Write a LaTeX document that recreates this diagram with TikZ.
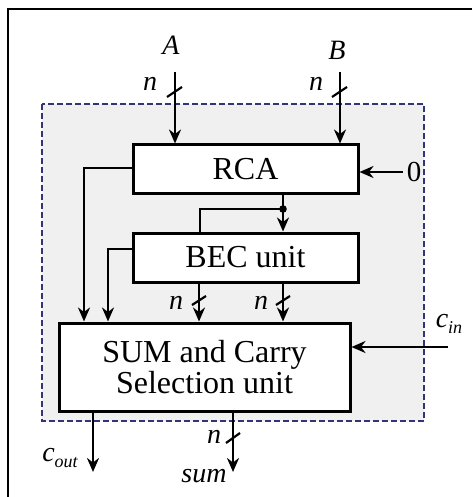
\documentclass[tikz,border=0pt]{standalone}
\usepackage{fontspec}
\setmainfont{Liberation Serif}
\usetikzlibrary{arrows.meta}
\newcommand{\subtxt}[2]{\textit{#1}\raisebox{-6pt}{\fontsize{18}{19}\selectfont\itshape #2}}
\begin{document}
\begin{tikzpicture}[x=1pt,y=-1pt,
  blk/.style={draw=black,fill=white,line width=3pt,inner sep=0pt,font=\fontsize{32}{34}\selectfont,align=center},
  wire/.style={line width=2.6pt},
  arr/.style={wire,-{Stealth[length=14pt,width=12pt,inset=4.5pt]}},
  lbl/.style={font=\fontsize{28}{30}\selectfont\itshape,inner sep=0pt},
  slash/.style={line width=2.2pt}]
\useasboundingbox (0,0) rectangle (472,497);
% outer frame (top and left)
\draw[line width=2.6pt] (472,9) -- (8,9) -- (8,497);
% dashed region
\draw[draw=black!55!blue!60!gray,fill=black!6,line width=2pt,dash pattern=on 6pt off 3pt] (42,104) rectangle (424,421);
% blocks
\node[blk,minimum width=225pt,minimum height=48pt] (rca) at (245.5,169) {RCA};
\node[blk,minimum width=225pt,minimum height=49pt] (bec) at (245.5,257.5) {BEC unit};
\node[blk,minimum width=291pt,minimum height=88pt] (sum) at (204.5,367) {SUM and Carry\\[-3pt]Selection unit};
% inputs
\coordinate (ain) at (175,72);
\coordinate (bin) at (340,72);
\node[lbl] (la) at (171,45) {A};
\node[lbl] (lb) at (337,50) {B};
\draw[arr] (ain) -- (ain |- rca.north);
\draw[arr] (bin) -- (bin |- rca.north);
\draw[slash] (167,97) -- (182,87);
\draw[slash] (332,97) -- (347,87);
\node[lbl] (na) at (150,84) {n};
\node[lbl] (nb) at (316,84) {n};
% zero carry in
\node[inner sep=0pt,font=\fontsize{29}{30}\selectfont] (zero) at (414,172) {0};
\draw[arr] (zero.west) ++(-4,0) coordinate (z0) -- (z0 -| rca.east);
% RCA left output to SUM
\coordinate (r1) at (84,168);
\draw[arr] (r1 -| rca.west) -- (r1) -- (r1 |- sum.north);
% RCA bottom output to BEC
\coordinate (r2) at (283,193);
\coordinate (jn) at (283,209);
\draw[arr] (r2) -- (r2 |- bec.north);
\fill (jn) circle (3.8pt);
\coordinate (j2) at (200,209);
\draw[wire] (jn) -- (j2) -- (j2 |- bec.north);
% BEC left output to SUM
\coordinate (b1) at (108,249);
\draw[arr] (b1 -| bec.west) -- (b1) -- (b1 |- sum.north);
% BEC bottom outputs
\coordinate (b2) at (199,282);
\coordinate (b3) at (283,282);
\draw[arr] (b2) -- (b2 |- sum.north);
\draw[arr] (b3) -- (b3 |- sum.north);
\draw[slash] (192,305) -- (206,296);
\draw[slash] (276,305) -- (290,296);
\node[lbl] (n2) at (176,303) {n};
\node[lbl] (n3) at (261,303) {n};
% c_in
\coordinate (cin) at (448,347);
\draw[arr] (cin) -- (cin -| sum.east);
\node[lbl] (lcin) at (449,324) {\subtxt{c}{in}};
% outputs
\coordinate (co) at (93,472);
\draw[arr] (co |- sum.south) -- (co);
\node[lbl] (lco) at (60,458) {\subtxt{c}{out}};
\coordinate (so) at (233,472);
\draw[arr] (so |- sum.south) -- (so);
\draw[slash] (226,443) -- (240,433);
\node[lbl] (ns) at (214,437) {n};
\node[lbl] (ls) at (204,476) {sum};
\end{tikzpicture}
\end{document}
